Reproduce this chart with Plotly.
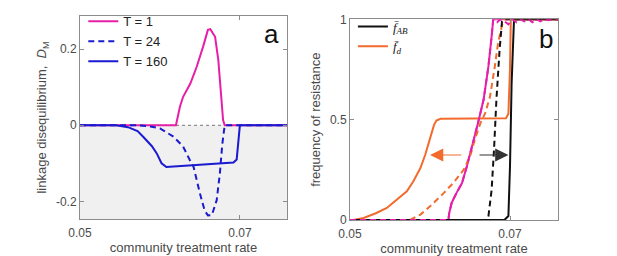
import plotly.graph_objects as go

# ---------------- Panel a data: linkage disequilibrium D_M ----------------
rate_T1 = [0.05, 0.0620, 0.0625, 0.0629, 0.0638, 0.0646, 0.0654, 0.0660, 0.0663,
           0.0669, 0.0673, 0.0676, 0.0679, 0.0681, 0.076]
ld_T1 = [0, 0, 0.049, 0.075, 0.11, 0.154, 0.207, 0.251, 0.253,
         0.233, 0.172, 0.084, 0.014, 0, 0]

rate_T24 = [0.05, 0.057, 0.0588, 0.060, 0.0617, 0.0629, 0.0637, 0.0642, 0.0650,
            0.0656, 0.0660, 0.0665, 0.0671, 0.0675, 0.0678, 0.0680, 0.0681, 0.076]
ld_T24 = [0, 0, -0.003, -0.008, -0.03, -0.056, -0.09, -0.109, -0.179,
          -0.225, -0.237, -0.236, -0.197, -0.126, -0.05, -0.004, 0, 0]

rate_T160 = [0.05, 0.0545, 0.0560, 0.0572, 0.0579, 0.0590, 0.0596, 0.0602, 0.0608,
             0.0692, 0.0696, 0.0698, 0.0700, 0.076]
ld_T160 = [0, 0, -0.005, -0.015, -0.030, -0.055, -0.074, -0.100, -0.110,
           -0.098, -0.090, -0.050, 0, 0]

# ---------------- Panel b data: frequency of resistance ----------------
rate_fd160 = [0.05, 0.0504, 0.0517, 0.0533, 0.0546, 0.0558, 0.0571, 0.0579, 0.0588,
              0.0594, 0.0598, 0.0602, 0.0605, 0.0608, 0.0613, 0.0695, 0.0698,
              0.0700, 0.0701, 0.076]
fd160 = [0, 0, 0.01, 0.035, 0.06, 0.101, 0.143, 0.192, 0.259,
         0.325, 0.383, 0.441, 0.474, 0.496, 0.504, 0.507, 0.53,
         0.76, 1, 1]

rate_fab160 = [0.05, 0.0693, 0.0698, 0.0700, 0.0702, 0.0704, 0.0705, 0.076]
fab160 = [0, 0, 0.02, 0.27, 0.68, 0.95, 1, 1]

rate_fd24 = [0.05, 0.0575, 0.0588, 0.0600, 0.0617, 0.0629, 0.0642, 0.0650, 0.0656,
             0.0663, 0.0669, 0.0675, 0.0681, 0.0685, 0.0690, 0.0692, 0.076]
fd24 = [0, 0, 0.027, 0.068, 0.134, 0.184, 0.25, 0.317, 0.40,
        0.483, 0.532, 0.615, 0.765, 0.88, 0.97, 1, 1]

rate_fab24 = [0.05, 0.0669, 0.0673, 0.0677, 0.0680, 0.0683, 0.0687, 0.0690, 0.0692, 0.076]
fab24 = [0, 0, 0.018, 0.15, 0.35, 0.60, 0.85, 0.99, 1, 1]

rate_f1 = [0.05, 0.0623, 0.0624, 0.0627, 0.0633, 0.0640, 0.0646, 0.0654, 0.0660,
           0.0667, 0.0673, 0.0677, 0.0679, 0.076]
f1 = [0, 0, 0.035, 0.085, 0.134, 0.184, 0.267, 0.383, 0.483,
      0.60, 0.765, 0.914, 1, 1]

rate_f1_noisy = [0.05, 0.0623, 0.0624, 0.0627, 0.0633, 0.0640, 0.0646, 0.0654, 0.0660,
                 0.0667, 0.0673, 0.0677, 0.0679, 0.0684, 0.0688, 0.0693, 0.0698,
                 0.0703, 0.0708, 0.0713, 0.0718, 0.0723, 0.0728, 0.0733, 0.0738,
                 0.0743, 0.0748, 0.0753, 0.076]
f1_noisy = [0, 0, 0.035, 0.085, 0.134, 0.184, 0.267, 0.383, 0.483,
            0.60, 0.765, 0.914, 1, 0.985, 1, 0.99, 0.975,
            1, 0.985, 1, 0.99, 1, 0.985, 1, 0.99,
            1, 0.995, 1, 1]

# arrows (panel b)
arrow_y = 0.324
arrow_fd = (0.0641, 0.0600)   # tail, head
arrow_fab = (0.0660, 0.0698)  # tail, head

xticks = [0.05, 0.07]
xticktext = ["0.05", "0.07"]
yticks_a = [-0.2, 0, 0.2]
yticktext_a = ["-0.2", "0", "0.2"]
yticks_b = [0, 0.5, 1]
yticktext_b = ["0", "0.5", "1"]

MAGENTA = "#e61fa8"
BLUE = "#1a1ad0"
ORANGE = "#f26a2c"
BLACK = "#111111"
TEXT = "#4a4a4a"
AXIS = "#8c8c8c"
FONT = "Liberation Sans, Arial, sans-serif"

fig = go.Figure()

# panel a traces
fig.add_trace(go.Scatter(x=rate_T1, y=ld_T1, mode="lines", name="T = 1",
                         line=dict(color=MAGENTA, width=2), xaxis="x", yaxis="y",
                         legend="legend"))
fig.add_trace(go.Scatter(x=rate_T24, y=ld_T24, mode="lines", name="T = 24",
                         line=dict(color=BLUE, width=2, dash="6px,4px"), xaxis="x", yaxis="y",
                         legend="legend"))
fig.add_trace(go.Scatter(x=rate_T160, y=ld_T160, mode="lines", name="T = 160",
                         line=dict(color=BLUE, width=2), xaxis="x", yaxis="y",
                         legend="legend"))

# panel b traces
fig.add_trace(go.Scatter(x=rate_f1, y=f1, mode="lines", showlegend=False,
                         line=dict(color=MAGENTA, width=2), xaxis="x2", yaxis="y2"))
fig.add_trace(go.Scatter(x=rate_fd24, y=fd24, mode="lines", showlegend=False,
                         line=dict(color=ORANGE, width=2, dash="6px,4px"), xaxis="x2", yaxis="y2"))
fig.add_trace(go.Scatter(x=rate_fab24, y=fab24, mode="lines", showlegend=False,
                         line=dict(color=BLACK, width=2, dash="6px,4px"), xaxis="x2", yaxis="y2"))
fig.add_trace(go.Scatter(x=rate_fd160, y=fd160, mode="lines", legend="legend2",
                         name="<span style='font-family:Liberation Serif'><i>f̄<sub>d</sub></i></span>",
                         line=dict(color=ORANGE, width=2), xaxis="x2", yaxis="y2"))
fig.add_trace(go.Scatter(x=rate_fab160, y=fab160, mode="lines", legend="legend2",
                         name="<span style='font-family:Liberation Serif'><i>f̄<sub>AB</sub></i></span>",
                         line=dict(color=BLACK, width=2), xaxis="x2", yaxis="y2"))
fig.add_trace(go.Scatter(x=rate_f1_noisy, y=f1_noisy, mode="lines", showlegend=False,
                         line=dict(color=MAGENTA, width=2, dash="6px,4px"), xaxis="x2", yaxis="y2"))

axis_common = dict(showgrid=False, zeroline=False, showline=True, mirror="ticks",
                   linecolor=AXIS, linewidth=1, ticks="inside", ticklen=4,
                   tickcolor=AXIS, automargin=False,
                   tickfont=dict(size=12, color=TEXT, family=FONT))

fig.update_layout(
    width=617, height=256,
    margin=dict(l=0, r=0, t=0, b=0),
    paper_bgcolor="white", plot_bgcolor="white",
    font=dict(family=FONT, color=TEXT, size=12),
    xaxis=dict(domain=[0.1297, 0.4652], range=[0.05, 0.0759], tickvals=xticks,
               ticktext=xticktext, anchor="y", ticklabelstandoff=3,
               title=dict(text="community treatment rate", standoff=2, font=dict(size=13)),
               **axis_common),
    yaxis=dict(domain=[0.1445, 0.9375], range=[-0.2466, 0.2876], tickvals=yticks_a,
               ticktext=yticktext_a, anchor="x",
               title=dict(text="linkage disequilibrium,  <i>D</i><sub>M</sub>", standoff=6,
                          font=dict(size=13)),
               **axis_common),
    xaxis2=dict(domain=[0.5673, 0.9044], range=[0.05, 0.076], tickvals=xticks,
                ticktext=xticktext, anchor="y2", ticklabelstandoff=3,
                title=dict(text="community treatment rate", standoff=2, font=dict(size=13)),
                **axis_common),
    yaxis2=dict(domain=[0.1406, 0.9246], range=[0, 1], tickvals=yticks_b,
                ticktext=yticktext_b, anchor="x2",
                title=dict(text="frequency of resistance", standoff=6, font=dict(size=13)),
                **axis_common),
    legend=dict(x=0.135, y=0.975, xanchor="left", yanchor="top", bgcolor="rgba(0,0,0,0)",
                font=dict(size=13, color="#222222"), tracegroupgap=0, itemwidth=30),
    legend2=dict(x=0.572, y=0.955, xanchor="left", yanchor="top", bgcolor="rgba(0,0,0,0)",
                 font=dict(size=13, color="#222222"), tracegroupgap=0, itemwidth=30,
                 traceorder="reversed"),
    shapes=[
        dict(type="rect", xref="x domain", yref="y", x0=0, x1=1, y0=-0.2466, y1=0,
             fillcolor="#f0f0f0", line=dict(width=0), layer="below"),
        dict(type="line", xref="x domain", yref="y", x0=0, x1=1, y0=0, y1=0,
             line=dict(color="#555555", width=0.8, dash="dot"), layer="below"),
    ],
    annotations=[
        dict(text="a", xref="x domain", yref="y domain", x=0.97, y=0.91, showarrow=False,
             xanchor="right", yanchor="middle", font=dict(size=26, color="#111111")),
        dict(text="b", xref="x2 domain", yref="y2 domain", x=0.985, y=0.9, showarrow=False,
             xanchor="right", yanchor="middle", font=dict(size=26, color="#111111")),
        dict(x=arrow_fd[1], y=arrow_y, ax=arrow_fd[0], ay=arrow_y, xref="x2", yref="y2",
             axref="x2", ayref="y2", showarrow=True, arrowhead=2, arrowsize=2.2,
             arrowwidth=1.2, arrowcolor=ORANGE, text=""),
        dict(x=arrow_fab[1], y=arrow_y, ax=arrow_fab[0], ay=arrow_y, xref="x2", yref="y2",
             axref="x2", ayref="y2", showarrow=True, arrowhead=2, arrowsize=2.2,
             arrowwidth=1.2, arrowcolor="#333333", text=""),
    ],
)

fig.write_html("out.html", config={"displayModeBar": False},
               post_script="document.body.style.margin='0px';document.body.style.overflow='hidden';")
